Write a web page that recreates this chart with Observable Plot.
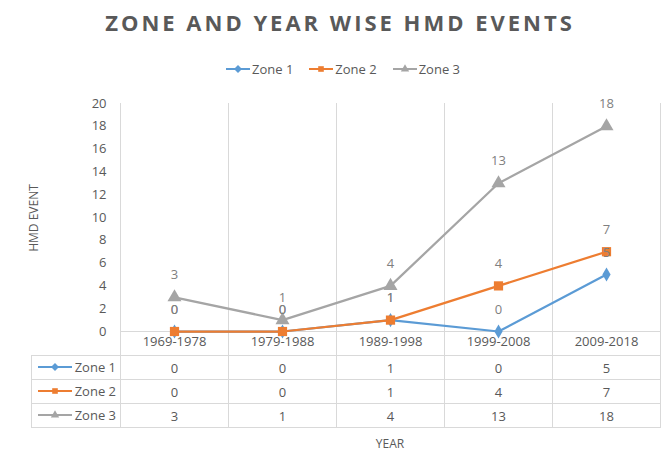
<!DOCTYPE html>
<html><head><meta charset="utf-8">
<script src="https://cdn.jsdelivr.net/npm/d3@7"></script>
<script src="https://cdn.jsdelivr.net/npm/@observablehq/plot@0.6"></script>
<style>
body{margin:0;background:#fff;font-family:"Open Sans",sans-serif;color:#595959;}
#wrap{position:relative;width:665px;height:470px;overflow:hidden;background:#fff;}
#title{position:absolute;top:7px;left:0;width:680px;text-align:center;font-weight:bold;font-size:22px;letter-spacing:3px;color:#595959;}
#legend{position:absolute;top:60px;left:0;width:686px;display:flex;justify-content:center;gap:16px;font-size:13px;align-items:center;}
#legend .it{display:flex;align-items:center;gap:2px;}
#chart{position:absolute;top:90px;left:0;}
#ytitle{position:absolute;left:33px;top:218px;transform:translate(-50%,-50%) rotate(-90deg);font-size:12px;white-space:nowrap;}
#tbl{position:absolute;top:355px;left:31px;border-collapse:collapse;table-layout:fixed;font-size:13px;color:#595959;}
#tbl td{border:1px solid #d9d9d9;height:23px;padding:0;text-align:center;}
#tbl td.lab{text-align:right;padding-right:4px;}
#tbl td.lab span{display:inline-flex;align-items:center;gap:3px;}
#xtitle{position:absolute;top:435px;left:390px;transform:translateX(-50%);font-size:12px;}
</style></head>
<body><div id="wrap">
<div id="title">ZONE AND YEAR WISE HMD EVENTS</div>
<div id="legend"></div>
<div id="chart"></div>
<div id="ytitle">HMD EVENT</div>
<table id="tbl"></table>
<div id="xtitle">YEAR</div>
</div>
<script>
const categories = ["1969-1978","1979-1988","1989-1998","1999-2008","2009-2018"];
const zones = ["Zone 1","Zone 2","Zone 3"];
const zone1 = [0,0,1,0,5];
const zone2 = [0,0,1,4,7];
const zone3 = [3,1,4,13,18];
const yTicks = [0,2,4,6,8,10,12,14,16,18,20];

const colors = ["#5B9BD5","#ED7D31","#A5A5A5"];
const symbols = ["diamond","square","triangle"];
const radii = [4.3,5.2,5.2];
const seriesVals = [zone1, zone2, zone3];

const rows = [];
seriesVals.forEach((vals, z) => vals.forEach((v, i) => rows.push({zone: zones[z], i, value: v})));

const marks = [
  Plot.ruleX(d3.range(categories.length + 1), {x: d => d - 0.5, stroke: "#d9d9d9", insetBottom: -24}),
  Plot.ruleY([0], {stroke: "#d9d9d9"}),
  Plot.axisY({ticks: yTicks, tickSize: 0, tickPadding: 14, label: null}),
  Plot.axisX({ticks: d3.range(categories.length), tickFormat: i => categories[i], tickSize: 0, tickPadding: 5, label: null})
];
zones.forEach((z, k) => {
  const d = rows.filter(r => r.zone === z);
  marks.push(Plot.line(d, {x: "i", y: "value", stroke: colors[k], strokeWidth: 2.25}));
  marks.push(Plot.dot(d, {x: "i", y: "value", symbol: symbols[k], fill: colors[k], stroke: "none", r: radii[k]}));
});
marks.push(Plot.text(rows, {x: "i", y: "value", text: "value", dy: -22, fill: "#7f7f7f", fontSize: 13}));

const plot = Plot.plot({
  width: 665, height: 265,
  marginLeft: 120, marginRight: 5, marginTop: 13, marginBottom: 24,
  x: {domain: [-0.5, categories.length - 0.5]},
  y: {domain: [0, 20]},
  style: {fontFamily: "Open Sans", fontSize: "13px", color: "#595959", background: "#fff"},
  marks
});
document.getElementById("chart").appendChild(plot);

function swatch(k, w) {
  const s = d3.create("svg").attr("width", w).attr("height", 12);
  s.append("line").attr("x1", 0).attr("x2", w).attr("y1", 6).attr("y2", 6).attr("stroke", colors[k]).attr("stroke-width", 2);
  s.append("path").attr("transform", `translate(${w/2},6)`).attr("fill", colors[k])
    .attr("d", d3.symbol(symbols[k] === "diamond" ? d3.symbolDiamond2 : symbols[k] === "square" ? d3.symbolSquare2 : d3.symbolTriangle2, k === 2 ? 50 : 40)());
  return s.node();
}

const leg = d3.select("#legend");
zones.forEach((z, k) => {
  const it = leg.append("div").attr("class", "it");
  it.node().appendChild(swatch(k, 24));
  it.append("span").text(z);
});

const tbl = d3.select("#tbl");
const cg = tbl.append("colgroup");
cg.append("col").style("width", "89px");
categories.forEach(() => cg.append("col").style("width", "108px"));
zones.forEach((z, k) => {
  const tr = tbl.append("tr");
  const sp = tr.append("td").attr("class", "lab").append("span");
  sp.node().appendChild(swatch(k, 34));
  sp.append("span").text(z);
  seriesVals[k].forEach(v => tr.append("td").text(v));
});
</script>
</body></html>
